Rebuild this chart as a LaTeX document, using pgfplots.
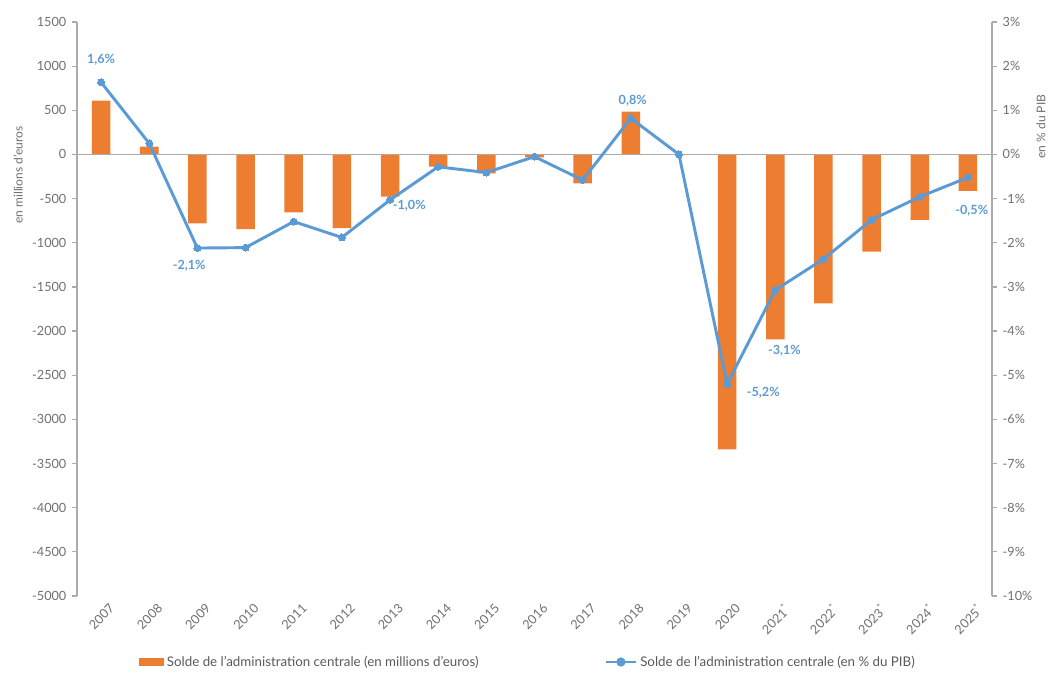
\documentclass[border=0pt]{standalone}
\usepackage{fontspec}
\setmainfont{Lato}
\usepackage{pgfplots}
\pgfplotsset{compat=1.18}
\definecolor{barorange}{HTML}{ED7D31}
\definecolor{lineblue}{HTML}{5B9BD5}
\definecolor{axgray}{HTML}{ABABAB}
\definecolor{txtgray}{HTML}{6F6F6F}
\begin{document}
\begin{tikzpicture}
\useasboundingbox (-57.75pt,-57.75pt) rectangle (731.25pt,447pt);
\begin{axis}[
  at={(0,0)}, anchor=south west,
  scale only axis, width=686.25pt, height=430.5pt,
  xmin=-0.5, xmax=18.5, ymin=-5000, ymax=1500,
  axis y line*=left, axis x line*=bottom,
  x axis line style={draw=none},
  y axis line style={axgray, line width=0.9pt},
  ytick={-5000,-4500,...,1500},
  xtick={0,...,18},
  xticklabels={2007,2008,2009,2010,2011,2012,2013,2014,2015,2016,2017,2018,2019,2020,
    2021\textsuperscript{*},2022\textsuperscript{*},2023\textsuperscript{*},2024\textsuperscript{*},2025\textsuperscript{*}},
  xtick style={draw=none},
  ytick style={axgray, line width=0.9pt},
  tick align=outside, major tick length=3.5pt,
  yticklabel style={txtgray, font=\fontsize{9.5}{11}\selectfont, xshift=-1pt},
  xticklabel style={txtgray, font=\fontsize{9.5}{11}\selectfont, rotate=45, anchor=north east, inner sep=1pt, yshift=-4pt, xshift=4pt},
  /pgf/number format/.cd, 1000 sep={}, assume math mode=true,
  /pgfplots/.cd,
  legend columns=2,
  legend style={at={(0.0634,-0.115)}, anchor=west, draw=none, fill=none,
    font=\fontsize{10}{12}\selectfont, text=txtgray!80!black,
    /tikz/every even column/.append style={column sep=0pt}},
  clip=false,
]
\addplot[ybar, bar width=0.385, fill=barorange, draw=none,
  legend image code/.code={\fill[barorange] (0pt,-3pt) rectangle (18.75pt,3pt);}]
  coordinates {(0,610) (1,90) (2,-780) (3,-845) (4,-655) (5,-835) (6,-478) (7,-138) (8,-213)
    (9,-32) (10,-327) (11,485) (12,0) (13,-3340) (14,-2093) (15,-1686) (16,-1100) (17,-742) (18,-413)};
\addlegendentry{\makebox[326pt][l]{Solde de l'administration centrale (en millions d'euros)}}
\addlegendimage{lineblue, line width=2pt, mark=*, mark size=2.4pt,
  legend image code/.code={\draw[lineblue, line width=2pt] (0pt,0pt) -- (23pt,0pt);
    \fill[lineblue] (11.5pt,0pt) circle (2.4pt);}}
\addlegendentry{Solde de l'administration centrale (en \% du PIB)}
\draw[axgray, line width=0.9pt] (axis cs:-0.5,0) -- (axis cs:18.5,0);
\end{axis}
\begin{axis}[
  at={(0,0)}, anchor=south west,
  scale only axis, width=686.25pt, height=430.5pt,
  xmin=-0.5, xmax=18.5, ymin=-10, ymax=3,
  axis y line*=right, axis x line=none,
  y axis line style={axgray, line width=0.9pt},
  ytick={-10,-9,...,3},
  ytick style={axgray, line width=0.9pt},
  tick align=outside, major tick length=3.5pt,
  yticklabel={\pgfmathprintnumber{\tick}\%},
  yticklabel style={txtgray, font=\fontsize{9.5}{11}\selectfont, xshift=1pt},
  /pgf/number format/.cd, assume math mode=true,
  /pgfplots/.cd,
  clip=false,
]
\addplot[lineblue, line width=2.2pt, mark=*, mark size=2.6pt, mark options={fill=lineblue, draw=lineblue, line width=0pt}]
  coordinates {(0,1.635) (1,0.25) (2,-2.12) (3,-2.11) (4,-1.52) (5,-1.88) (6,-1.03) (7,-0.28) (8,-0.41)
    (9,-0.05) (10,-0.58) (11,0.82) (12,0) (13,-5.2) (14,-3.07) (15,-2.37) (16,-1.48) (17,-0.96) (18,-0.52)};
\begin{scope}[every node/.style={lineblue, font=\fontsize{9.5}{11}\selectfont\bfseries}]
\node at (axis cs:0,2.14) {1,6\%};
\node at (axis cs:1.83,-2.53) {-2,1\%};
\node at (axis cs:6.40,-1.16) {-1,0\%};
\node at (axis cs:11.04,1.22) {0,8\%};
\node at (axis cs:13.75,-5.40) {-5,2\%};
\node at (axis cs:14.19,-4.44) {-3,1\%};
\node at (axis cs:18.08,-1.28) {-0,5\%};
\end{scope}
\end{axis}
\node[rotate=90, txtgray, font=\fontsize{9}{11}\selectfont] at (-44.25pt,315.75pt) {en millions d'euros};
\node[rotate=90, txtgray, font=\fontsize{9}{11}\selectfont] at (723pt,352pt) {en \% du PIB};
\end{tikzpicture}
\end{document}
